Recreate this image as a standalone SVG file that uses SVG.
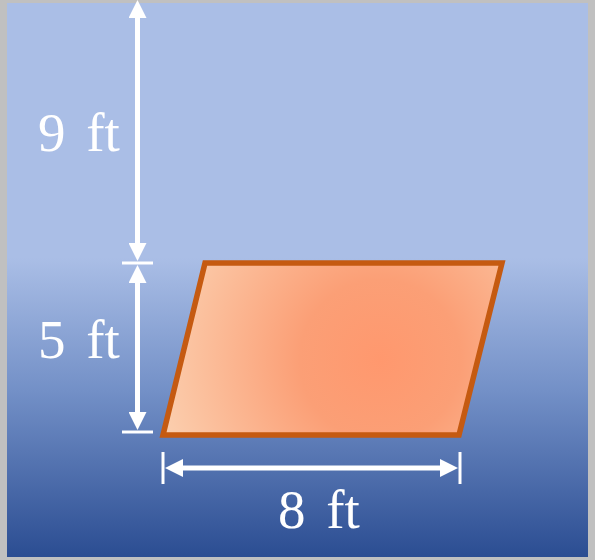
<svg xmlns="http://www.w3.org/2000/svg" width="595" height="560" viewBox="0 0 595 560">
<defs>
<linearGradient id="bg" gradientUnits="userSpaceOnUse" x1="0" y1="3" x2="0" y2="557">
<stop offset="0" stop-color="#aabee6"/>
<stop offset="0.46" stop-color="#aabee6"/>
<stop offset="0.7" stop-color="#7390c7"/>
<stop offset="1" stop-color="#2b4d92"/>
</linearGradient>
<radialGradient id="pg" gradientUnits="userSpaceOnUse" cx="380" cy="360" r="230">
<stop offset="0" stop-color="#ff986e"/>
<stop offset="0.35" stop-color="#fb9f76"/>
<stop offset="1" stop-color="#fbd0b0"/>
</radialGradient>
<marker id="ah" viewBox="0 0 18 18" markerUnits="userSpaceOnUse" markerWidth="18" markerHeight="18" refX="8" refY="9" orient="auto-start-reverse">
<path d="M0,0 L18,9 L0,18 z" fill="#ffffff"/>
</marker>
<style>
.dim{stroke:#ffffff;stroke-width:5;fill:none}
.tick{stroke:#ffffff;stroke-width:3;fill:none}
.lbl{font-family:"Liberation Serif","DejaVu Serif",serif;font-size:55px;fill:#ffffff;word-spacing:7px}
</style>
</defs>
<rect x="0" y="0" width="595" height="560" fill="#c0c0c0"/>
<rect x="7" y="3" width="581" height="554" fill="url(#bg)"/>
<g id="parallelogram">
<polygon points="205,263 502,263 459,435 163,435" fill="url(#pg)" stroke="#c55a11" stroke-width="5.5" stroke-linejoin="miter"/>
</g>
<g id="connectors">
<line class="dim" x1="137.5" y1="10" x2="137.5" y2="251" marker-start="url(#ah)" marker-end="url(#ah)"/>
<line class="dim" x1="137.5" y1="275" x2="137.5" y2="420" marker-start="url(#ah)" marker-end="url(#ah)"/>
<line class="dim" x1="175" y1="468" x2="448" y2="468" marker-start="url(#ah)" marker-end="url(#ah)"/>
<line class="tick" x1="122" y1="263" x2="153" y2="263"/>
<line class="tick" x1="122" y1="432" x2="153" y2="432"/>
<line class="tick" x1="163" y1="452" x2="163" y2="484"/>
<line class="tick" x1="460" y1="452" x2="460" y2="484"/>
</g>
<g id="label-9ft"><text class="lbl" x="38" y="151">9 ft</text></g>
<g id="label-5ft"><text class="lbl" x="38" y="358">5 ft</text></g>
<g id="label-8ft"><text class="lbl" x="278" y="528">8 ft</text></g>
</svg>
